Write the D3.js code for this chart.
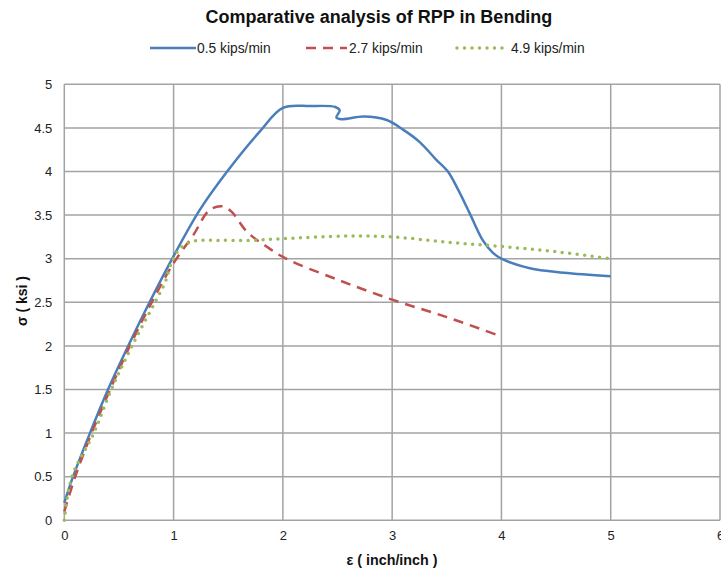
<!DOCTYPE html>
<html>
<head>
<meta charset="utf-8">
<script src="https://cdn.jsdelivr.net/npm/d3@7/dist/d3.min.js"></script>
<style>
  html, body { margin: 0; padding: 0; background: #fff; }
  svg { display: block; font-family: "Liberation Sans", Arial, sans-serif; }
</style>
</head>
<body>
<svg id="chart" width="721" height="573"></svg>
<script>
// Stress–strain data for RPP in bending at three loading rates
const strain05 = [0, 0.08, 0.235, 0.40, 0.585, 0.78, 1.0, 1.24, 1.49, 1.79, 2.0, 2.25, 2.48, 2.52, 2.49, 2.54, 2.74, 2.95, 3.1, 3.25, 3.4, 3.51, 3.6, 3.71, 3.83, 3.92, 4.0, 4.26, 4.57, 5.0];
const stress05 = [0.2, 0.5, 1.0, 1.5, 2.0, 2.5, 3.03, 3.56, 4.0, 4.46, 4.73, 4.75, 4.74, 4.70, 4.62, 4.60, 4.63, 4.59, 4.48, 4.34, 4.14, 4.0, 3.8, 3.52, 3.21, 3.07, 3.0, 2.89, 2.84, 2.8];

const strain27 = [0, 0.1, 0.25, 0.42, 0.6, 0.8, 1.0, 1.18, 1.33, 1.45, 1.53, 1.67, 1.85, 2.03, 2.5, 3.0, 3.5, 3.95];
const stress27 = [0.1, 0.5, 1.0, 1.5, 2.0, 2.5, 2.95, 3.27, 3.56, 3.6, 3.54, 3.31, 3.14, 3.0, 2.76, 2.53, 2.33, 2.13];

const strain49 = [0, 0.07, 0.27, 0.43, 0.62, 0.83, 0.92, 0.98, 1.06, 1.18, 1.4, 1.7, 2.0, 2.6, 3.0, 3.5, 4.0, 4.5, 5.0];
const stress49 = [0, 0.5, 1.0, 1.5, 2.0, 2.5, 2.72, 2.95, 3.12, 3.2, 3.21, 3.21, 3.23, 3.26, 3.25, 3.19, 3.14, 3.08, 3.0];

const seriesNames = ["0.5 kips/min", "2.7 kips/min", "4.9 kips/min"];
const xTicks = [0, 1, 2, 3, 4, 5, 6];
const yTicks = [0, 0.5, 1, 1.5, 2, 2.5, 3, 3.5, 4, 4.5, 5];

const series = [
  { name: seriesNames[0], xs: strain05, ys: stress05, color: "#4a7ebb", width: 2.5, dash: null, cap: "butt" },
  { name: seriesNames[1], xs: strain27, ys: stress27, color: "#c0504d", width: 2.5, dash: "10,7", cap: "butt" },
  { name: seriesNames[2], xs: strain49, ys: stress49, color: "#9bbb59", width: 3.5, dash: "0,7.5", cap: "round" }
];

const svg = d3.select("#chart");
const plot = { left: 64.3, right: 720, top: 84.3, bottom: 520.3 };

const x = d3.scaleLinear().domain([0, 6]).range([plot.left, plot.right]);
const y = d3.scaleLinear().domain([0, 5]).range([plot.bottom, plot.top]);

// Grid
const grid = svg.append("g");
grid.selectAll("line.h").data(yTicks).join("line")
  .attr("x1", plot.left).attr("x2", plot.right)
  .attr("y1", d => y(d)).attr("y2", d => y(d))
  .attr("stroke", "#a3a3a3").attr("stroke-width", 1.5);
grid.selectAll("line.v").data(xTicks).join("line")
  .attr("y1", plot.top).attr("y2", plot.bottom)
  .attr("x1", d => x(d)).attr("x2", d => x(d))
  .attr("stroke", "#a3a3a3").attr("stroke-width", 1.5);

// Axes (labels only; lines come from the grid)
const yAxis = svg.append("g")
  .attr("transform", `translate(${plot.left},0)`)
  .call(d3.axisLeft(y).tickValues(yTicks).tickSize(0).tickPadding(12).tickFormat(d3.format("")));
yAxis.select(".domain").remove();
yAxis.selectAll("text").attr("font-size", 13).attr("fill", "#222")
  .attr("font-family", "Liberation Sans, Arial, sans-serif");

const xAxis = svg.append("g")
  .attr("transform", `translate(0,${plot.bottom})`)
  .call(d3.axisBottom(x).tickValues(xTicks).tickSize(0).tickPadding(10).tickFormat(d3.format("")));
xAxis.select(".domain").remove();
xAxis.selectAll("text").attr("font-size", 13).attr("fill", "#222")
  .attr("font-family", "Liberation Sans, Arial, sans-serif");

// Curves
const line = d3.line()
  .x(d => x(d[0])).y(d => y(d[1]))
  .curve(d3.curveCatmullRom.alpha(0.5));

series.forEach(s => {
  const pts = s.xs.map((v, i) => [v, s.ys[i]]);
  svg.append("path")
    .datum(pts)
    .attr("d", line)
    .attr("fill", "none")
    .attr("stroke", s.color)
    .attr("stroke-width", s.width)
    .attr("stroke-linecap", s.cap)
    .attr("stroke-linejoin", "round")
    .attr("stroke-dasharray", s.dash);
});

// Title
svg.append("text")
  .attr("x", 379).attr("y", 23)
  .attr("text-anchor", "middle")
  .attr("font-size", 18).attr("font-weight", "bold").attr("fill", "#111")
  .text("Comparative analysis of RPP in Bending");

// Legend
const legendItems = [
  { s: series[0], x1: 150, x2: 196, tx: 197 },
  { s: series[1], x1: 306, x2: 347, tx: 349 },
  { s: series[2], x1: 457, x2: 504, tx: 511 }
];
legendItems.forEach(it => {
  svg.append("line")
    .attr("x1", it.x1).attr("x2", it.x2).attr("y1", 48).attr("y2", 48)
    .attr("stroke", it.s.color).attr("stroke-width", it.s.width)
    .attr("stroke-linecap", it.s.cap)
    .attr("stroke-dasharray", it.s.dash);
  svg.append("text")
    .attr("x", it.tx).attr("y", 52.5)
    .attr("font-size", 13.8).attr("fill", "#222")
    .text(it.s.name);
});

// Axis titles
svg.append("text")
  .attr("x", 392).attr("y", 565)
  .attr("text-anchor", "middle")
  .attr("font-size", 14.3).attr("font-weight", "bold").attr("fill", "#111")
  .text("ε ( inch/inch )");

svg.append("text")
  .attr("transform", "translate(27,301) rotate(-90)")
  .attr("text-anchor", "middle")
  .attr("font-size", 14).attr("font-weight", "bold").attr("fill", "#111")
  .text("σ ( ksi )");
</script>
</body>
</html>
